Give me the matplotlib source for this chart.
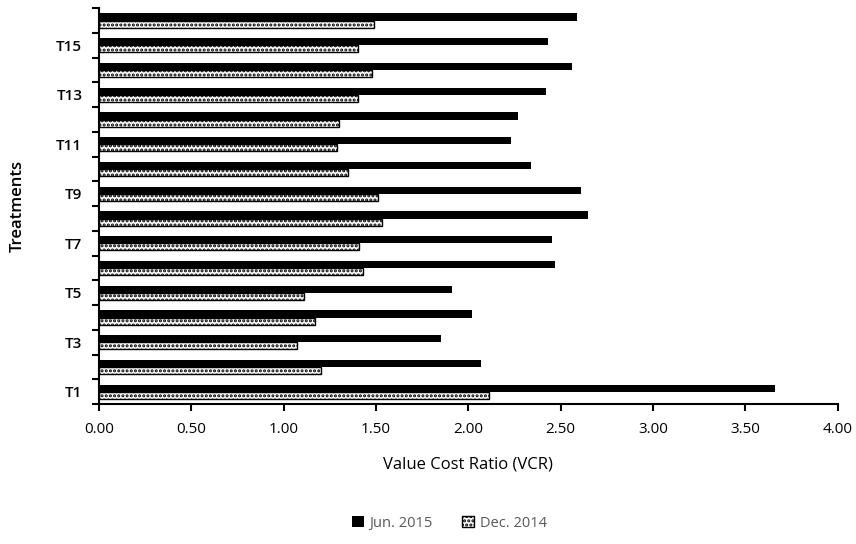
import numpy as np
import matplotlib.pyplot as plt

treatments = ['T1', 'T2', 'T3', 'T4', 'T5', 'T6', 'T7', 'T8',
              'T9', 'T10', 'T11', 'T12', 'T13', 'T14', 'T15', 'T16']
jun_2015 = [3.66, 2.07, 1.85, 2.02, 1.91, 2.47, 2.45, 2.65,
            2.61, 2.34, 2.23, 2.27, 2.42, 2.56, 2.43, 2.59]
dec_2014 = [2.11, 1.20, 1.07, 1.17, 1.11, 1.43, 1.41, 1.53,
            1.51, 1.35, 1.29, 1.30, 1.40, 1.48, 1.40, 1.49]

plt.rcParams['font.family'] = ['Open Sans', 'DejaVu Sans']
plt.rcParams['hatch.linewidth'] = 1.5

fig = plt.figure(figsize=(8.56, 5.44), dpi=100)
ax = fig.add_axes([0.1157, 0.257, 0.863, 0.728])

y = np.arange(len(treatments))
h = 0.29
ax.barh(y + h / 2, jun_2015, height=h, color='black', label='Jun. 2015')
ax.barh(y - h / 2, dec_2014, height=h, color='white', edgecolor='black',
        hatch='....', linewidth=1.0, label='Dec. 2014')

ax.set_xlim(0, 4)
ax.set_ylim(-0.5, 15.5)
ax.set_xticks(np.arange(0, 4.01, 0.5))
ax.set_xticklabels(['%.2f' % v for v in np.arange(0, 4.01, 0.5)], fontsize=11)

# ticks between categories, labels on odd treatments
ax.set_yticks(np.arange(-0.5, 16, 1))
ax.set_yticklabels([])
ax.set_yticks(y[::2], minor=True)
ax.set_yticklabels(treatments[::2], minor=True, fontsize=11, fontweight='semibold')
ax.tick_params(axis='y', which='minor', length=0, pad=12)
ax.tick_params(axis='y', which='major', length=5, width=1.5, direction='out')
ax.tick_params(axis='x', length=5, width=1.5, direction='out', pad=8)

for s in ['top', 'right']:
    ax.spines[s].set_visible(False)
ax.spines['left'].set_linewidth(1.5)
ax.spines['bottom'].set_linewidth(1.5)

ax.set_xlabel('Value Cost Ratio (VCR)', fontsize=12, labelpad=14)
ax.set_ylabel('Treatments', fontsize=12, fontweight='semibold', labelpad=22)

leg = fig.legend(loc='lower center', bbox_to_anchor=(0.525, 0.0), ncol=2,
                 frameon=False, fontsize=10.5, handlelength=0.8, handleheight=0.8,
                 columnspacing=2.0, handletextpad=0.4)
for t in leg.get_texts():
    t.set_color('#595959')

plt.savefig('out.png', dpi=100)
